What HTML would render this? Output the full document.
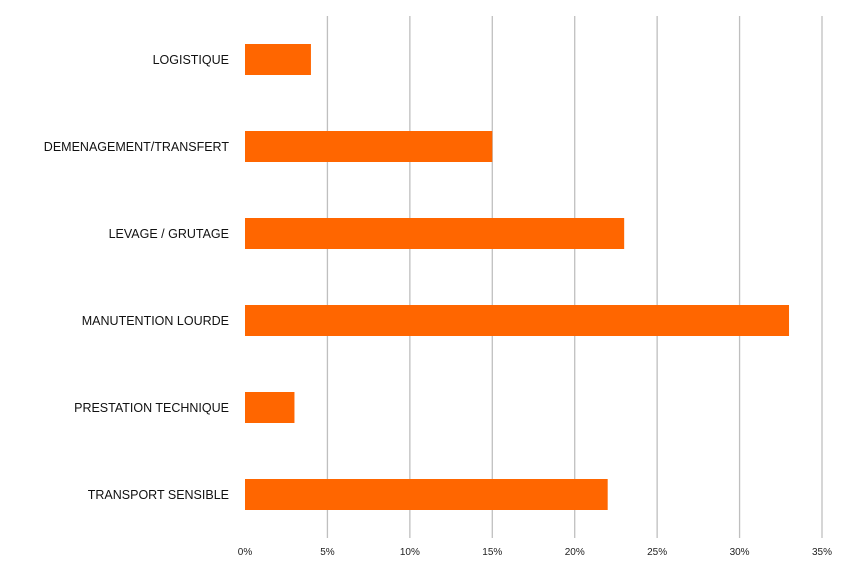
<!DOCTYPE html>
<html><head><meta charset="utf-8"><style>
html,body{margin:0;padding:0;background:#fff;}
svg{display:block;font-family:"Liberation Sans","DejaVu Sans",sans-serif;}
</style></head><body>
<svg id="chart" width="850" height="569" viewBox="0 0 850 569" xmlns="http://www.w3.org/2000/svg">
<g id="grid"></g><g id="bars"></g><g id="labels"></g><g id="ticks"></g>
</svg>
<script>
const categories = ["LOGISTIQUE","DEMENAGEMENT/TRANSFERT","LEVAGE / GRUTAGE","MANUTENTION LOURDE","PRESTATION TECHNIQUE","TRANSPORT SENSIBLE"];
const values = [4, 15, 23, 33, 3, 22];
const tickValues = [0, 5, 10, 15, 20, 25, 30, 35];
const tickLabels = ["0%","5%","10%","15%","20%","25%","30%","35%"];

const NS = "http://www.w3.org/2000/svg";
const xStart = 245, xEnd = 822, xMax = 35;
const xScale = v => xStart + (xEnd - xStart) * v / xMax;
const gridTop = 16, catStep = 87, firstCenter = 59.5, barH = 31;
const yScale = i => firstCenter + i * catStep;
function mk(tag, attrs){const e=document.createElementNS(NS,tag);for(const k in attrs)e.setAttribute(k,attrs[k]);return e;}
const gGrid=document.getElementById('grid'), gBars=document.getElementById('bars'), gLabels=document.getElementById('labels'), gTicks=document.getElementById('ticks');
tickValues.forEach((t,i)=>{
  if(t>0){
    const l=mk('line',{x1:xScale(t),x2:xScale(t),y1:gridTop,y2:538,stroke:'#bfbfbf','stroke-width':1.3});
    
    
    gGrid.appendChild(l);
  }
  const tx=mk('text',{x:xScale(t),y:555,'text-anchor':'middle','font-size':10,fill:'#222'});
  tx.textContent=tickLabels[i];
  
  
  gTicks.appendChild(tx);
});
categories.forEach((c,i)=>{
  const r=mk('rect',{x:xStart,y:yScale(i)-barH/2,width:xScale(values[i])-xStart,height:barH,fill:'#ff6600'});
  
  
  gBars.appendChild(r);
  const t=mk('text',{x:229,y:yScale(i)+4.5,'text-anchor':'end','font-size':12.5,fill:'#111'});
  t.textContent=c;
  
  
  gLabels.appendChild(t);
});
</script>
</body></html>
